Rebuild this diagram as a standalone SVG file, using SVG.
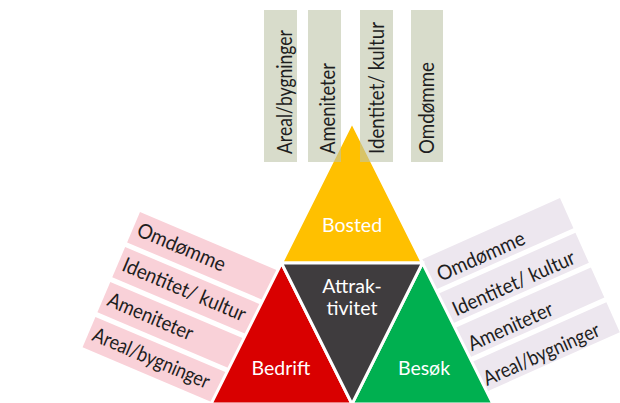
<svg xmlns="http://www.w3.org/2000/svg" width="620" height="403" viewBox="0 0 620 403">
<style>
.t{font-family:Lato,"Liberation Sans",sans-serif;font-size:20.5px;fill:#1e1e1e}
.lbl{font-family:Lato,"Liberation Sans",sans-serif;font-size:19.5px;fill:#ffffff;text-anchor:middle}
.top{fill:#bec5a8;fill-opacity:0.6}
.pink{fill:#f9d1d8}
.lav{fill:#ede7ef}
.tri{stroke:#ffffff;stroke-width:3;stroke-linejoin:miter}
</style>
<rect width="620" height="403" fill="#ffffff"/>
<g id="left-bands" transform="translate(140,212) rotate(23)">
  <rect class="pink" x="0" y="0" width="185" height="33"/>
  <rect class="pink" x="0" y="38" width="185" height="33"/>
  <rect class="pink" x="0" y="76" width="185" height="33"/>
  <rect class="pink" x="0" y="114" width="185" height="33"/>
  <text class="t" x="5" y="23" textLength="94" lengthAdjust="spacingAndGlyphs">Omdømme</text>
  <text class="t" x="5" y="61" textLength="132" lengthAdjust="spacingAndGlyphs">Identitet/ kultur</text>
  <text class="t" x="5" y="99" textLength="91" lengthAdjust="spacingAndGlyphs">Ameniteter</text>
  <text class="t" x="5" y="137" textLength="125" lengthAdjust="spacingAndGlyphs">Areal/bygninger</text>
</g>
<g id="right-bands" transform="translate(560,198) rotate(-24)">
  <rect class="lav" x="-185" y="0" width="185" height="33"/>
  <rect class="lav" x="-185" y="38" width="185" height="33"/>
  <rect class="lav" x="-185" y="76" width="185" height="33"/>
  <rect class="lav" x="-185" y="114" width="185" height="33"/>
  <text class="t" x="-143" y="28" textLength="94" lengthAdjust="spacingAndGlyphs">Omdømme</text>
  <text class="t" x="-143" y="66" textLength="132" lengthAdjust="spacingAndGlyphs">Identitet/ kultur</text>
  <text class="t" x="-143" y="104" textLength="91" lengthAdjust="spacingAndGlyphs">Ameniteter</text>
  <text class="t" x="-143" y="142" textLength="125" lengthAdjust="spacingAndGlyphs">Areal/bygninger</text>
</g>
<g id="bosted">
  <polygon class="tri" points="352,122 281.5,263 422.5,263" fill="#ffc000"/>
  <text class="lbl" x="352" y="232">Bosted</text>
</g>
<g id="bedrift">
  <polygon class="tri" points="281.5,263 211,404 352,404" fill="#d90000"/>
  <text class="lbl" x="281" y="375">Bedrift</text>
</g>
<g id="besok">
  <polygon class="tri" points="422.5,263 352,404 493,404" fill="#00b050"/>
  <text class="lbl" x="424" y="375">Besøk</text>
</g>
<g id="attraktivitet">
  <polygon class="tri" points="281.5,263 422.5,263 352,404" fill="#3f3c3e"/>
  <text class="lbl" x="352" y="293">Attrak-</text>
  <text class="lbl" x="352" y="315">tivitet</text>
</g>
<g id="top-bands">
  <rect class="top" x="264" y="10" width="33" height="152"/>
  <rect class="top" x="308" y="10" width="33" height="152"/>
  <rect class="top" x="360" y="10" width="33" height="152"/>
  <rect class="top" x="411" y="10" width="32" height="152"/>
  <text class="t" transform="translate(292,154) rotate(-90)" textLength="124" lengthAdjust="spacingAndGlyphs">Areal/bygninger</text>
  <text class="t" transform="translate(335,154) rotate(-90)" textLength="91" lengthAdjust="spacingAndGlyphs">Ameniteter</text>
  <text class="t" transform="translate(384,154) rotate(-90)" textLength="132" lengthAdjust="spacingAndGlyphs">Identitet/ kultur</text>
  <text class="t" transform="translate(434,154) rotate(-90)" textLength="92" lengthAdjust="spacingAndGlyphs">Omdømme</text>
</g>
<g id="connectors"></g>
</svg>
